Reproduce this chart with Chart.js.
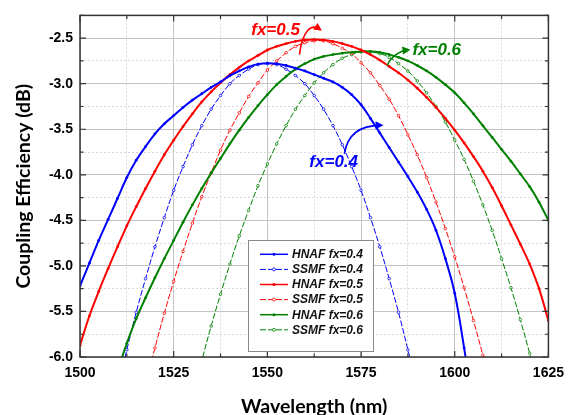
<!DOCTYPE html>
<html><head><meta charset="utf-8">
<script src="https://cdn.jsdelivr.net/npm/chart.js@4.4.1/dist/chart.umd.min.js"></script>
<style>html,body{margin:0;padding:0;background:#fff}#wrap{width:572px;height:415px;position:relative}</style>
</head><body><div id="wrap"><canvas id="c" width="572" height="415"></canvas></div>
<script>
// ---- data ----
const wavelengths = [1500,1502.5,1505,1507.5,1510,1512.5,1515,1517.5,1520,1522.5,1525,1527.5,1530,1532.5,1535,1537.5,1540,1542.5,1545,1547.5,1550,1552.5,1555,1557.5,1560,1562.5,1565,1567.5,1570,1572.5,1575,1577.5,1580,1582.5,1585,1587.5,1590,1592.5,1595,1597.5,1600,1602.5,1605,1607.5,1610,1612.5,1615,1617.5,1620,1622.5,1625];

const hnaf04 = [-5.22,-4.97,-4.72,-4.49,-4.26,-4.03,-3.84,-3.69,-3.55,-3.44,-3.35,-3.26,-3.18,-3.11,-3.04,-2.98,-2.91,-2.86,-2.815,-2.785,-2.775,-2.78,-2.80,-2.83,-2.86,-2.90,-2.94,-2.98,-3.04,-3.12,-3.23,-3.38,-3.54,-3.70,-3.86,-4.02,-4.19,-4.38,-4.61,-4.92,-5.30,-5.90,-6.60,null,null,null,null,null,null,null,null];
const ssmf04 = [null,null,null,null,-6.35,-5.92,-5.51,-5.14,-4.79,-4.47,-4.17,-3.91,-3.67,-3.46,-3.28,-3.13,-3.00,-2.91,-2.84,-2.79,-2.78,-2.79,-2.84,-2.91,-3.00,-3.13,-3.28,-3.46,-3.67,-3.91,-4.17,-4.47,-4.79,-5.14,-5.51,-5.92,-6.35,null,null,null,null,null,null,null,null,null,null,null,null,null,null];
const hnaf05 = [-5.87,-5.55,-5.28,-5.03,-4.79,-4.56,-4.35,-4.15,-3.96,-3.78,-3.62,-3.47,-3.33,-3.20,-3.09,-2.99,-2.90,-2.82,-2.75,-2.69,-2.63,-2.59,-2.56,-2.535,-2.52,-2.515,-2.52,-2.535,-2.56,-2.59,-2.63,-2.68,-2.74,-2.81,-2.88,-2.96,-3.05,-3.15,-3.26,-3.38,-3.51,-3.65,-3.80,-3.96,-4.14,-4.34,-4.55,-4.76,-4.98,-5.25,-5.60];
const ssmf05 = [null,null,null,null,null,null,null,-6.30,-5.90,-5.52,-5.17,-4.84,-4.53,-4.24,-3.98,-3.73,-3.51,-3.32,-3.14,-2.99,-2.85,-2.75,-2.66,-2.59,-2.55,-2.53,-2.53,-2.56,-2.61,-2.67,-2.77,-2.88,-3.02,-3.17,-3.35,-3.56,-3.78,-4.03,-4.30,-4.59,-4.90,-5.24,-5.60,-5.98,-6.38,null,null,null,null,null,null];
const hnaf06 = [null,null,null,null,-6.15,-5.85,-5.58,-5.35,-5.13,-4.92,-4.72,-4.52,-4.33,-4.15,-3.98,-3.82,-3.66,-3.51,-3.37,-3.24,-3.12,-3.01,-2.92,-2.84,-2.78,-2.73,-2.70,-2.68,-2.665,-2.655,-2.645,-2.645,-2.655,-2.68,-2.71,-2.75,-2.80,-2.86,-2.93,-3.01,-3.10,-3.21,-3.33,-3.46,-3.59,-3.72,-3.85,-3.99,-4.13,-4.30,-4.50];
const ssmf06 = [null,null,null,null,null,null,null,null,null,null,null,null,-6.43,-6.04,-5.66,-5.31,-4.98,-4.67,-4.39,-4.12,-3.88,-3.66,-3.46,-3.28,-3.13,-2.99,-2.88,-2.79,-2.72,-2.68,-2.65,-2.65,-2.67,-2.71,-2.78,-2.86,-2.97,-3.10,-3.25,-3.42,-3.62,-3.83,-4.07,-4.33,-4.61,-4.92,-5.24,-5.59,-5.96,-6.35,null];

const seriesNames = ['HNAF fx=0.4','SSMF fx=0.4','HNAF fx=0.5','SSMF fx=0.5','HNAF fx=0.6','SSMF fx=0.6'];
const xTickLabels = [1500,1525,1550,1575,1600,1625];
const yTickLabels = [-6.0,-5.5,-5.0,-4.5,-4.0,-3.5,-3.0,-2.5];
const annotationTexts = ['fx=0.4','fx=0.5','fx=0.6'];

// ---- styling ----
const BLUE = '#0000ff', RED = '#ff0000', GREEN = '#008000';
const FONT = '"Liberation Sans", Arial, sans-serif';
const TITLE_FONT = 'Lato, "Open Sans", sans-serif';

function pts(arr){ return wavelengths.map((w,i)=>({x:w,y:arr[i]})); }
function hnafDs(label, arr, c){
  return {label, data: pts(arr), borderColor:c, backgroundColor:c, borderWidth:2,
    pointRadius:1.4, pointBackgroundColor:c, pointBorderWidth:0, pointHoverRadius:0,
    tension:0.35, order:0, kind:'hnaf'};
}
function ssmfDs(label, arr, c){
  return {label, data: pts(arr), borderColor:c, backgroundColor:'#fff', borderWidth:1,
    borderDash:[6,2], pointRadius:1.3, pointBackgroundColor:'#fff', pointBorderColor:c,
    pointBorderWidth:0.8, pointHoverRadius:0, tension:0.35, order:1, kind:'ssmf'};
}

const datasets = [
  hnafDs(seriesNames[0], hnaf04, BLUE),
  ssmfDs(seriesNames[1], ssmf04, BLUE),
  hnafDs(seriesNames[2], hnaf05, RED),
  ssmfDs(seriesNames[3], ssmf05, RED),
  hnafDs(seriesNames[4], hnaf06, GREEN),
  ssmfDs(seriesNames[5], ssmf06, GREEN)
];

const isMajorX = v => xTickLabels.some(t => Math.abs(t - v) < 1e-6);
const isMajorY = v => yTickLabels.some(t => Math.abs(t - v) < 1e-6);

// annotation anchors in data units
const annotations = [
  {text: annotationTexts[0], color: BLUE, at:[1561.2,-3.866],
   arrow:[[1570.55,-3.769],[1571.4,-3.543],[1575.1,-3.457],[1580.2,-3.457]]},
  {text: annotationTexts[1], color: RED, at:[1545.7,-2.41],
   arrow:[[1558.56,-2.68],[1559.4,-2.41],[1561.8,-2.34],[1563.9,-2.40]]},
  {text: annotationTexts[2], color: GREEN, at:[1588.7,-2.63],
   arrow:[[1582.0,-2.80],[1583.0,-2.70],[1585.3,-2.64],[1587.4,-2.63]]}
];

const decor = {
  id:'decor',
  afterDraw(chart){
    const {ctx, chartArea:a, scales:{x, y}} = chart;
    ctx.save();
    // frame
    ctx.strokeStyle = '#333'; ctx.lineWidth = 1.5;
    ctx.strokeRect(a.left, a.top, a.right - a.left, a.bottom - a.top);
    // inward ticks on all four sides
    ctx.lineWidth = 1.2;
    x.ticks.forEach(t => {
      const px = x.getPixelForValue(t.value);
      const L = isMajorX(t.value) ? 6 : 3.5;
      ctx.beginPath();
      ctx.moveTo(px, a.bottom); ctx.lineTo(px, a.bottom - L);
      ctx.moveTo(px, a.top); ctx.lineTo(px, a.top + L);
      ctx.stroke();
    });
    y.ticks.forEach(t => {
      const py = y.getPixelForValue(t.value);
      const L = isMajorY(t.value) ? 6 : 3.5;
      ctx.beginPath();
      ctx.moveTo(a.left, py); ctx.lineTo(a.left + L, py);
      ctx.moveTo(a.right, py); ctx.lineTo(a.right - L, py);
      ctx.stroke();
    });
    // annotations
    annotations.forEach(an => {
      ctx.fillStyle = an.color; ctx.strokeStyle = an.color;
      ctx.font = 'italic bold 17px ' + FONT;
      ctx.textBaseline = 'middle'; ctx.textAlign = 'left';
      ctx.fillText(an.text, x.getPixelForValue(an.at[0]), y.getPixelForValue(an.at[1]));
      const P = an.arrow.map(p => [x.getPixelForValue(p[0]), y.getPixelForValue(p[1])]);
      ctx.lineWidth = 1.6;
      ctx.beginPath();
      ctx.moveTo(P[0][0], P[0][1]);
      ctx.bezierCurveTo(P[1][0], P[1][1], P[2][0], P[2][1], P[3][0], P[3][1]);
      ctx.stroke();
      const ang = Math.atan2(P[3][1]-P[2][1], P[3][0]-P[2][0]);
      const hl = 8, hw = 4;
      const tx = P[3][0] + Math.cos(ang)*3, ty = P[3][1] + Math.sin(ang)*3;
      ctx.beginPath();
      ctx.moveTo(tx, ty);
      ctx.lineTo(tx - hl*Math.cos(ang) + hw*Math.sin(ang), ty - hl*Math.sin(ang) - hw*Math.cos(ang));
      ctx.lineTo(tx - hl*Math.cos(ang) - hw*Math.sin(ang), ty - hl*Math.sin(ang) + hw*Math.cos(ang));
      ctx.closePath(); ctx.fill();
    });
    // legend box
    const bx = 248.5, by = 240.5, bw = 125, bh = 111;
    ctx.fillStyle = '#fff'; ctx.fillRect(bx, by, bw, bh);
    ctx.strokeStyle = '#888'; ctx.lineWidth = 1; ctx.strokeRect(bx, by, bw, bh);
    ctx.font = 'italic bold 12px ' + FONT;
    ctx.textBaseline = 'middle'; ctx.textAlign = 'left';
    chart.data.datasets.forEach((ds, i) => {
      const ly = 254.3 + i * 15.1;
      ctx.strokeStyle = ds.borderColor;
      ctx.lineWidth = ds.kind === 'hnaf' ? 1.5 : 1;
      ctx.setLineDash(ds.kind === 'hnaf' ? [] : [6,2]);
      ctx.beginPath(); ctx.moveTo(260, ly); ctx.lineTo(288, ly); ctx.stroke();
      ctx.setLineDash([]);
      ctx.beginPath(); ctx.arc(274, ly, 1.5, 0, Math.PI*2);
      if (ds.kind === 'hnaf') { ctx.fillStyle = ds.borderColor; ctx.fill(); }
      else { ctx.fillStyle = '#fff'; ctx.fill(); ctx.lineWidth = 0.8; ctx.stroke(); }
      ctx.fillStyle = '#111';
      ctx.fillText(ds.label, 292, ly + 0.5);
    });
    ctx.restore();
  }
};

new Chart(document.getElementById('c'), {
  type:'line',
  data:{datasets},
  options:{
    responsive:false, animation:false, devicePixelRatio:1,
    layout:{padding:{left:0, right:23, top:10, bottom:0}},
    plugins:{legend:{display:false}, tooltip:{enabled:false}},
    scales:{
      x:{type:'linear', min:1500, max:1625,
        afterFit(s){ s.height = 58; },
        ticks:{stepSize:12.5, autoSkip:false, maxRotation:0, padding:8, color:'#000',
          font:{family:FONT, size:14, weight:'bold'},
          callback:v => isMajorX(v) ? String(v) : ''},
        grid:{drawTicks:false, lineWidth:1,
          color:c => isMajorX(c.tick.value) ? '#c4c4c4' : '#dadada'},
        border:{display:false, dash:c => (c.tick && isMajorX(c.tick.value)) ? [] : [2,2]},
        title:{display:true, text:'Wavelength (nm)', color:'#000',
          font:{family:TITLE_FONT, size:19.5, weight:'bold'}, padding:{top:0,bottom:-3}}
      },
      y:{type:'linear', min:-6, max:-2.25,
        afterFit(s){ s.width = 80; },
        ticks:{stepSize:0.25, autoSkip:false, padding:7, color:'#000',
          font:{family:FONT, size:14, weight:'bold'},
          callback:v => isMajorY(v) ? v.toFixed(1) : ''},
        grid:{drawTicks:false, lineWidth:1,
          color:c => isMajorY(c.tick.value) ? '#c4c4c4' : '#dadada'},
        border:{display:false, dash:c => (c.tick && isMajorY(c.tick.value)) ? [] : [2,2]},
        title:{display:true, text:'Coupling Efficiency (dB)', color:'#000',
          font:{family:TITLE_FONT, size:19.5, weight:'bold'}, padding:{top:12,bottom:0}}
      }
    }
  },
  plugins:[decor]
});
</script></body></html>
